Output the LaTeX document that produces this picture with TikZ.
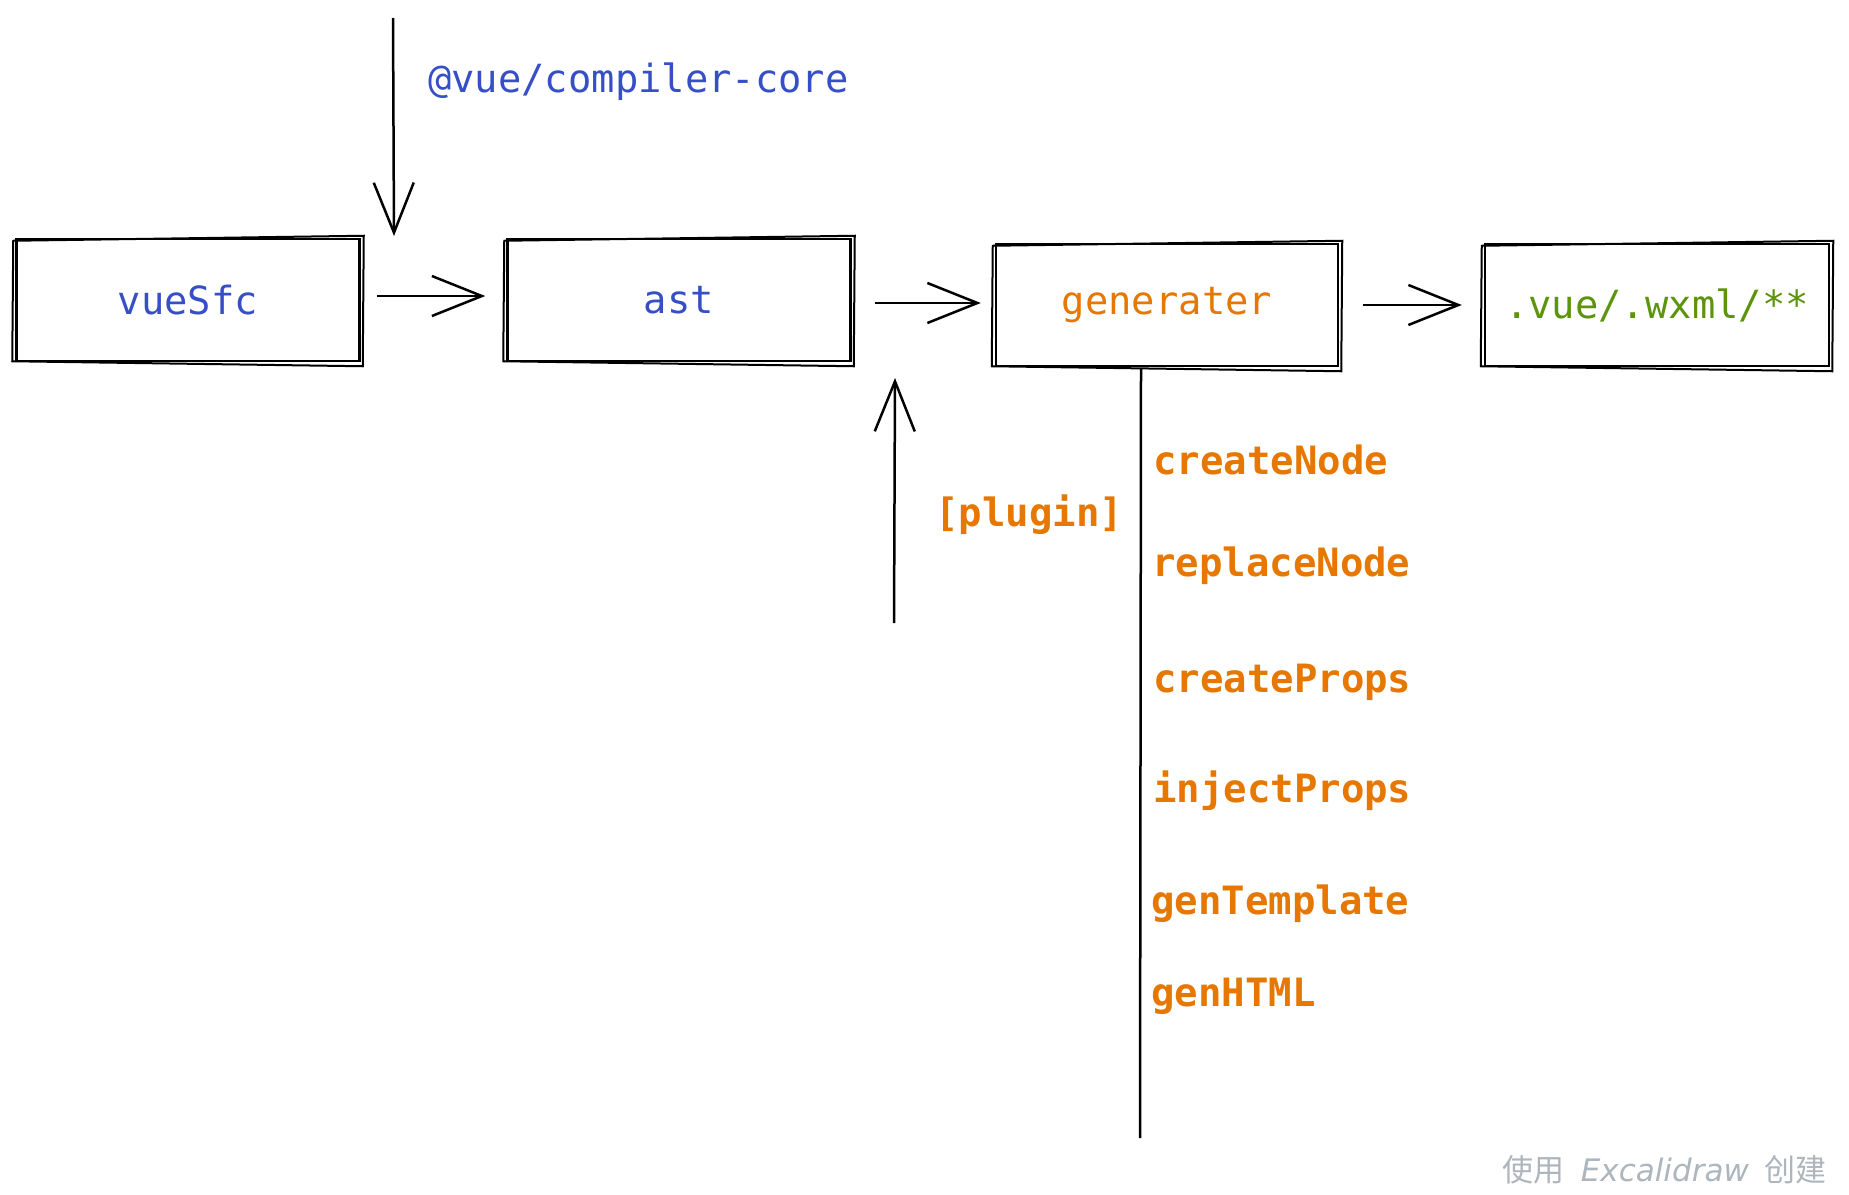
\documentclass[tikz,border=0pt]{standalone}
\usepackage{fontspec}
\usetikzlibrary{arrows.meta}
\setmonofont{DejaVu Sans Mono}
\newfontfamily\cjkfont{Noto Sans CJK SC}
\newfontfamily\latinfoot{DejaVu Sans}
\definecolor{exblue}{HTML}{364FC7}
\definecolor{exorange}{HTML}{E67700}
\definecolor{exgreen}{HTML}{5C940D}
\definecolor{exgray}{HTML}{ADB5BD}
\tikzset{
  box/.style={draw=black, line width=2.5pt, minimum width=343pt, minimum height=122pt, inner sep=0pt,
    font=\ttfamily\fontsize{38.8}{44}\selectfont},
  flow/.style={line width=2.5pt, -{Straight Barb[length=50pt,width=40pt,line width=2.5pt]}},
  lbl/.style={font=\ttfamily\fontsize{38.8}{44}\selectfont, inner sep=0pt, anchor=west},
  fn/.style={font=\ttfamily\bfseries\fontsize{39}{44}\selectfont, text=exorange, inner sep=0pt, anchor=west},
  rough/.style={line width=2pt, draw=black}
}
\newcommand{\roughpass}[1]{%
  \draw[rough] ([shift={(-2,3)}]#1.north west) -- ([shift={(3,-2)}]#1.north east)
    -- ([shift={(2,4)}]#1.south east) -- ([shift={(-3,-1)}]#1.south west) -- cycle;}
\begin{document}
\begin{tikzpicture}[x=1pt,y=-1pt]
\useasboundingbox[fill=white] (0,0) rectangle (1849,1194);

\node[box, text=exblue] (sfc) at (188,300) {vueSfc};
\node[box, text=exblue] (ast) at (679,300) {ast};
\node[box, text=exorange, minimum width=342pt] (gen) at (1167,305) {generater};
\node[box, text=exgreen, minimum width=344pt] (out) at (1657,305) {.vue/.wxml/**};
\roughpass{sfc}
\roughpass{ast}
\roughpass{gen}
\roughpass{out}

\draw[flow, shorten <=16pt, shorten >=21pt] ([yshift=4pt]sfc.east) -- ([yshift=4pt]sfc.east -| ast.west);
\draw[flow, shorten <=23pt, shorten >=14pt] ([yshift=-3pt]ast.east) -- ([yshift=-3pt]ast.east -| gen.west);
\draw[flow, shorten <=24pt, shorten >=22pt] (gen.east) -- (out.west);

\coordinate (coreTop) at (393,18);
\coordinate (coreTip) at (394,236);
\draw[flow] (coreTop) -- (coreTip);
\node[lbl, text=exblue] (core) at (428,82) {@vue/compiler-core};

\coordinate (plugBot) at (894,623);
\coordinate (plugTip) at (895,378);
\draw[flow] (plugBot) -- (plugTip);
\node[fn] (plugin) at (935,515) {[plugin]};

\coordinate (lineTop) at (1141,369);
\coordinate (lineBot) at (1140,1138);
\draw[line width=2.5pt] (lineTop) -- (lineBot);

\node[fn] (f1) at (1153,460) {createNode};
\node[fn] (f2) at (1152,566) {replaceNode};
\node[fn] (f3) at (1153,682) {createProps};
\node[fn] (f4) at (1153,791) {injectProps};
\node[fn] (f5) at (1151,904) {genTemplate};
\node[fn] (f6) at (1151,996) {genHTML};

\node[anchor=east, inner sep=0pt, text=exgray, font=\cjkfont\fontsize{31}{34}\selectfont] (footer) at (1827,1170) {使用\hspace{16pt}{\latinfoot\itshape\fontsize{31}{34}\selectfont Excalidraw}\hspace{16pt}创建};
\end{tikzpicture}
\end{document}
